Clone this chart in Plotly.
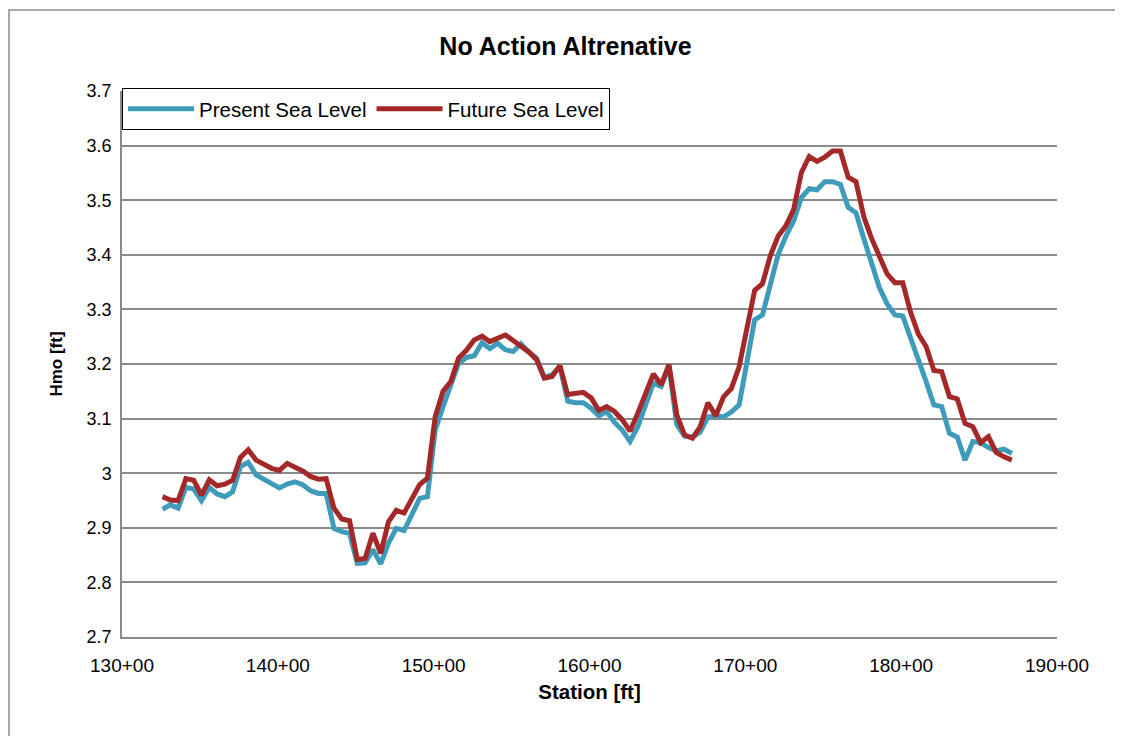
import plotly.graph_objects as go

# Station (ft): every 50 ft starting at 132+60
station_start = 13260
station_step = 50

present_sea_level = [
    2.934, 2.942, 2.936, 2.974, 2.971, 2.950, 2.974, 2.962, 2.957, 2.966,
    3.012, 3.020, 2.997, 2.989, 2.980, 2.973, 2.980, 2.984, 2.979, 2.968,
    2.963, 2.963, 2.899, 2.893, 2.890, 2.835, 2.836, 2.860, 2.834, 2.872,
    2.899, 2.895, 2.924, 2.954, 2.957, 3.079, 3.122, 3.162, 3.201, 3.212,
    3.215, 3.239, 3.228, 3.238, 3.226, 3.223, 3.237, 3.222, 3.211, 3.176,
    3.180, 3.196, 3.132, 3.129, 3.129, 3.119, 3.105, 3.113, 3.093, 3.079,
    3.058, 3.085, 3.124, 3.165, 3.159, 3.196, 3.089, 3.068, 3.066, 3.075,
    3.103, 3.105, 3.103, 3.112, 3.125, 3.200, 3.281, 3.290, 3.342, 3.400,
    3.434, 3.462, 3.505, 3.521, 3.519, 3.534, 3.534, 3.529, 3.487, 3.477,
    3.430, 3.385, 3.340, 3.310, 3.290, 3.288, 3.251, 3.208, 3.168, 3.125,
    3.122, 3.073, 3.066, 3.024, 3.058, 3.056, 3.047, 3.041, 3.044, 3.036,
]

future_sea_level = [
    2.957, 2.951, 2.950, 2.990, 2.987, 2.960, 2.988, 2.977, 2.980, 2.987,
    3.029, 3.043, 3.024, 3.017, 3.009, 3.005, 3.018, 3.011, 3.004, 2.994,
    2.989, 2.990, 2.936, 2.916, 2.913, 2.842, 2.844, 2.890, 2.853, 2.911,
    2.932, 2.927, 2.952, 2.979, 2.991, 3.104, 3.150, 3.168, 3.211, 3.225,
    3.244, 3.251, 3.241, 3.247, 3.253, 3.243, 3.232, 3.222, 3.208, 3.174,
    3.177, 3.197, 3.144, 3.145, 3.148, 3.138, 3.115, 3.122, 3.113, 3.098,
    3.077, 3.110, 3.147, 3.182, 3.162, 3.199, 3.107, 3.070, 3.064, 3.085,
    3.129, 3.105, 3.140, 3.155, 3.195, 3.270, 3.335, 3.347, 3.398, 3.434,
    3.453, 3.483, 3.551, 3.580, 3.571, 3.579, 3.590, 3.590, 3.542, 3.534,
    3.470, 3.430, 3.400, 3.365, 3.349, 3.349, 3.295, 3.255, 3.232, 3.188,
    3.186, 3.140, 3.136, 3.091, 3.085, 3.056, 3.067, 3.038, 3.030, 3.024,
]

stations = [station_start + station_step * i for i in range(len(present_sea_level))]

x_tick_values = [13000, 14000, 15000, 16000, 17000, 18000, 19000]
x_tick_labels = ["130+00", "140+00", "150+00", "160+00", "170+00", "180+00", "190+00"]
y_tick_values = [2.7, 2.8, 2.9, 3.0, 3.1, 3.2, 3.3, 3.4, 3.5, 3.6, 3.7]
y_tick_labels = ["2.7", "2.8", "2.9", "3", "3.1", "3.2", "3.3", "3.4", "3.5", "3.6", "3.7"]

series_names = ["Present Sea Level", "Future Sea Level"]
series_colors = ["#3F9BBA", "#A52828"]

FONT = "Liberation Sans, Arial, sans-serif"
GRID = "#8A8A8A"

fig = go.Figure()
for name, vals, col in zip(series_names, [present_sea_level, future_sea_level], series_colors):
    fig.add_trace(go.Scatter(
        x=stations, y=vals, mode="lines", name=name,
        line=dict(color=col, width=5),
    ))

# the page body adds an 8px offset; figure sized to fit the window
OFF = 8
W, H = 1123 - OFF, 736 - OFF
L = 122 - OFF
T = 91 - OFF
R = W - (1057 - OFF)
B = H - (637 - OFF)
pw = W - L - R
ph = H - T - B

def px_x(p):
    # page pixel x -> paper coordinate
    return (p - OFF - L) / pw

def px_y(p):
    # page pixel y -> paper coordinate
    return (H - B - (p - OFF)) / ph

fig.update_layout(
    width=W, height=H,
    margin=dict(l=L, r=R, t=T, b=B, pad=0),
    paper_bgcolor="white", plot_bgcolor="white",
    font=dict(family=FONT, size=18, color="black"),
    title=dict(text="<b>No Action Altrenative</b>", x=0.5, xref="container",
               y=1 - (46 - OFF) / H, yref="container", xanchor="center", yanchor="middle",
               font=dict(family=FONT, size=25, color="black")),
    showlegend=True,
    legend=dict(orientation="h", x=0, xanchor="left", y=px_y(88), yanchor="top",
                bgcolor="white", bordercolor="black", borderwidth=1,
                font=dict(family=FONT, size=20.5, color="black"),
                itemwidth=66, tracegroupgap=0),
    xaxis=dict(range=[13000, 19000], tickvals=x_tick_values, ticktext=x_tick_labels,
               showgrid=False, zeroline=False, showline=True, linecolor=GRID, linewidth=1.5,
               ticks="", ticklabelstandoff=10, tickfont=dict(family=FONT, size=19),
               title=dict(text="<b>Station [ft]</b>", standoff=10,
                          font=dict(family=FONT, size=20.5))),
    yaxis=dict(range=[2.7, 3.7], tickvals=y_tick_values, ticktext=y_tick_labels,
               showgrid=True, gridcolor=GRID, gridwidth=1.5, zeroline=False,
               showline=True, linecolor=GRID, linewidth=1.5,
               ticks="", ticklabelstandoff=5, tickfont=dict(family=FONT, size=18),
               title=dict(text="<b>Hmo [ft]</b>", standoff=20,
                          font=dict(family=FONT, size=17))),
)

# outer chart border (left, top, right; bottom lies below the visible page)
fig.add_shape(type="rect", xref="paper", yref="paper",
              x0=px_x(9), x1=px_x(1118), y0=px_y(760), y1=px_y(10),
              line=dict(color="#8C8C8C", width=1.5), fillcolor="rgba(0,0,0,0)",
              layer="below")

fig.write_html("out.html")
